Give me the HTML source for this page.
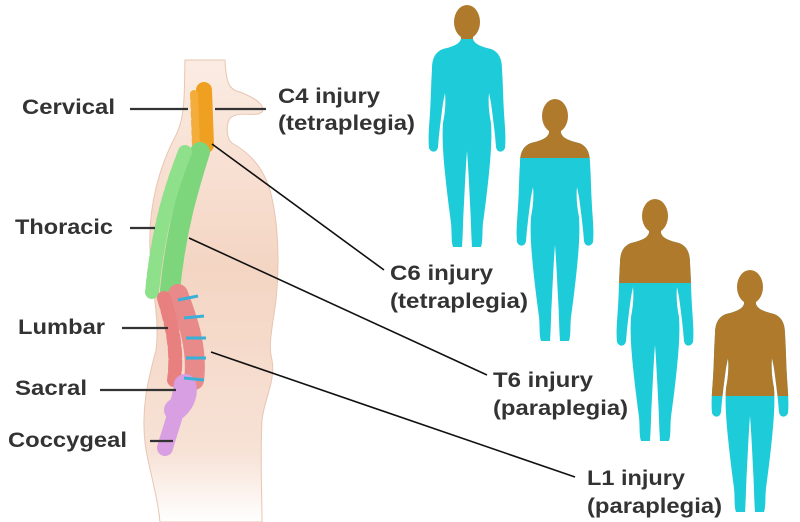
<!DOCTYPE html>
<html><head><meta charset="utf-8"><style>
html,body{margin:0;padding:0;background:#fff;width:800px;height:522px;overflow:hidden}
svg{display:block}
text{font-family:"Liberation Sans",Arial,sans-serif;font-weight:bold;fill:#333;font-size:21px}
</style></head><body>
<svg width="800" height="522" viewBox="0 0 800 522">
<defs>
<linearGradient id="skin" x1="0" y1="0" x2="0" y2="1">
<stop offset="0" stop-color="#fbece3"/><stop offset="0.45" stop-color="#f4d5c3"/><stop offset="0.85" stop-color="#f7e2d6"/><stop offset="1" stop-color="#fff"/>
</linearGradient>
<path id="man" d="M34,36 L46,36 C48,42 56,44 64,46 C72,49 75,56 75,66 C76,80 76,95 77,110 C78,125 79,135 78,145 C76,150 70,150 69,144 C68,130 66,115 64,100 L62,90 C61,100 62,110 64,120 C65,135 64,150 62,170 C60,190 58,205 56,220 C55,230 56,238 54,244 L45,244 C44,230 44,215 43,200 C42,180 41,160 40,148 C39,160 38,180 37,200 C36,215 36,230 35,244 L26,244 C24,238 25,230 24,220 C22,205 20,190 18,170 C16,150 15,135 16,120 C18,110 19,100 18,90 L16,100 C14,115 12,130 11,144 C10,150 4,150 2,145 C1,135 2,125 3,110 C4,95 4,80 5,66 C5,56 8,49 16,46 C24,44 32,42 34,36 Z"/>
<clipPath id="mc"><use href="#man"/></clipPath>
</defs>

<path d="M185,60 C184,90 186,115 176,135 C160,165 148,205 150,250 C152,290 160,320 156,350 C148,380 140,410 146,450 C152,480 158,500 160,522 L262,522 C262,490 260,460 262,420 C264,400 276,380 272,360 C268,345 272,330 276,300 C280,260 278,220 270,190 C262,165 248,152 232,143 C226,138 226,125 230,118 C240,110 255,118 262,112 C266,105 255,98 240,92 C228,90 226,80 225,60 Z" fill="url(#skin)" stroke="#e8c5b2" stroke-width="1"/>

<g stroke-linecap="round" fill="none">
<path d="M204,90 L206,145" stroke="#f0a020" stroke-width="16"/>
<path d="M194,94 L196,146" stroke="#f3ad3a" stroke-width="8" stroke-dasharray="5 4"/>
<path d="M200,152 C188,190 176,230 170,290" stroke="#7ed67c" stroke-width="20"/>
<path d="M185,152 C170,190 158,230 152,292" stroke="#8ee08a" stroke-width="14" stroke-dasharray="7 4"/>
<path d="M178,294 C188,320 198,350 194,380" stroke="#e88a8a" stroke-width="20"/>
<path d="M164,298 C172,325 178,350 174,380" stroke="#e98080" stroke-width="14" stroke-dasharray="8 5"/>
<path d="M182,384 C178,410 170,430 165,448" stroke="#d8a0e2" stroke-width="16"/>
<path d="M185,385 C188,395 182,405 175,410" stroke="#d8a0e2" stroke-width="22"/>
</g>
<g stroke="#38b0d8" stroke-width="3">
<line x1="178" y1="300" x2="198" y2="296"/>
<line x1="184" y1="318" x2="204" y2="316"/>
<line x1="186" y1="338" x2="206" y2="338"/>
<line x1="186" y1="358" x2="206" y2="358"/>
<line x1="184" y1="378" x2="204" y2="380"/>
</g>

<g stroke="#333" stroke-width="2.2">
<line x1="130" y1="109" x2="188" y2="109"/>
<line x1="215" y1="109" x2="266" y2="109"/>
<line x1="130" y1="228" x2="155" y2="228"/>
<line x1="122" y1="328" x2="168" y2="328"/>
<line x1="100" y1="390" x2="176" y2="390"/>
<line x1="150" y1="441" x2="173" y2="441"/>
</g>
<g stroke="#111" stroke-width="1.6">
<line x1="212" y1="144" x2="384" y2="270"/>
<line x1="189" y1="238" x2="487" y2="375"/>
<line x1="211" y1="352" x2="575" y2="477"/>
</g>

<text x="22" y="114" textLength="93" lengthAdjust="spacingAndGlyphs">Cervical</text>
<text x="15" y="234" textLength="98" lengthAdjust="spacingAndGlyphs">Thoracic</text>
<text x="18" y="334" textLength="87" lengthAdjust="spacingAndGlyphs">Lumbar</text>
<text x="15" y="395" textLength="72" lengthAdjust="spacingAndGlyphs">Sacral</text>
<text x="8" y="447" textLength="119" lengthAdjust="spacingAndGlyphs">Coccygeal</text>
<text x="278" y="103" textLength="102" lengthAdjust="spacingAndGlyphs">C4 injury</text>
<text x="278" y="130" textLength="137" lengthAdjust="spacingAndGlyphs">(tetraplegia)</text>
<text x="390" y="280" textLength="103" lengthAdjust="spacingAndGlyphs">C6 injury</text>
<text x="390" y="308" textLength="138" lengthAdjust="spacingAndGlyphs">(tetraplegia)</text>
<text x="493" y="387" textLength="100" lengthAdjust="spacingAndGlyphs">T6 injury</text>
<text x="493" y="415" textLength="135" lengthAdjust="spacingAndGlyphs">(paraplegia)</text>
<text x="587" y="485" textLength="98" lengthAdjust="spacingAndGlyphs">L1 injury</text>
<text x="587" y="513" textLength="135" lengthAdjust="spacingAndGlyphs">(paraplegia)</text>

<g transform="translate(427,3)">
<ellipse cx="40" cy="19" rx="13" ry="17" fill="#b07a2c"/>
<rect x="34" y="30" width="12" height="10" fill="#b07a2c"/>
<use href="#man" fill="#1ecbd8"/>
</g>
<g transform="translate(515,97)">
<use href="#man" fill="#1ecbd8"/>
<rect x="0" y="0" width="80" height="61" fill="#b07a2c" clip-path="url(#mc)"/>
<ellipse cx="40" cy="19" rx="13" ry="17" fill="#b07a2c"/>
<rect x="34" y="30" width="12" height="10" fill="#b07a2c"/>
</g>
<g transform="translate(615,197)">
<use href="#man" fill="#1ecbd8"/>
<rect x="0" y="0" width="80" height="86" fill="#b07a2c" clip-path="url(#mc)"/>
<ellipse cx="40" cy="19" rx="13" ry="17" fill="#b07a2c"/>
<rect x="34" y="30" width="12" height="10" fill="#b07a2c"/>
</g>
<g transform="translate(710,268)">
<use href="#man" fill="#1ecbd8"/>
<rect x="0" y="0" width="80" height="128" fill="#b07a2c" clip-path="url(#mc)"/>
<ellipse cx="40" cy="19" rx="13" ry="17" fill="#b07a2c"/>
<rect x="34" y="30" width="12" height="10" fill="#b07a2c"/>
</g>
</svg>
</body></html>
